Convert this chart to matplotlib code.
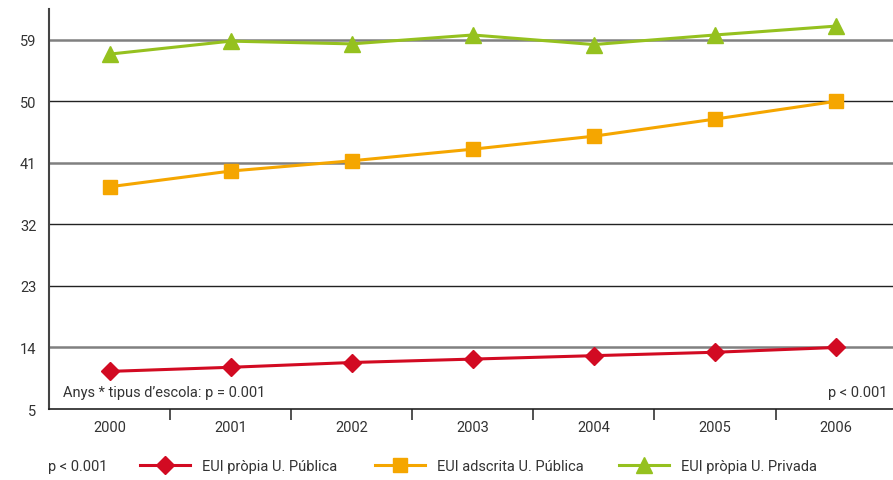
import numpy as np
import matplotlib
matplotlib.use("Agg")
import matplotlib.pyplot as plt
from matplotlib.lines import Line2D

plt.rcParams['font.family'] = ['Roboto', 'DejaVu Sans']

years = ["2000", "2001", "2002", "2003", "2004", "2005", "2006"]
eui_publica = [10.5, 11.1, 11.8, 12.3, 12.8, 13.3, 14.0]
eui_adscrita = [37.5, 39.8, 41.3, 43.0, 44.9, 47.4, 50.0]
eui_privada = [56.9, 58.8, 58.4, 59.7, 58.3, 59.7, 61.0]
yticks = [5, 14, 23, 32, 41, 50, 59]

labels = ["EUI pròpia U. Pública", "EUI adscrita U. Pública", "EUI pròpia U. Privada"]
colors = ["#d20a22", "#f5a600", "#95c11f"]
markers = ["D", "s", "^"]
msizes = [9, 10, 11]
FS = 10.5
TXT = "#333333"

fig = plt.figure(figsize=(8.93, 4.81), dpi=100)
ax = fig.add_axes([49/893, 1 - 410/481, 1 - 49/893, 400/481])

x = np.arange(len(years))
for vals, c, m, ms, lab in zip([eui_publica, eui_adscrita, eui_privada], colors, markers, msizes, labels):
    ax.plot(x, vals, color=c, marker=m, markersize=ms, linewidth=2.2, label=lab, zorder=5)

# gridlines: alternating grey / dark
for v in yticks[1:]:
    if v in (14, 41, 59):
        ax.axhline(v, color="#808080", linewidth=1.8, zorder=1)
    else:
        ax.axhline(v, color="#222222", linewidth=1.0, zorder=1)

ax.set_xlim(-0.5, 6.47)
ax.set_ylim(5, 63.5)
ax.set_yticks(yticks)
ax.set_yticklabels([str(v) for v in yticks], fontsize=FS, color=TXT)
ax.set_xticks(x)
ax.set_xticklabels(years, fontsize=FS, color=TXT)
ax.tick_params(axis="x", which="major", length=0, pad=8)
ax.tick_params(axis="y", length=0, pad=9)
ax.set_xticks(x[:-1] + 0.5, minor=True)
ax.tick_params(axis="x", which="minor", length=8, width=1.2, color=TXT, direction="out")

for s in ["top", "right"]:
    ax.spines[s].set_visible(False)
ax.spines["left"].set_color("#444444")
ax.spines["left"].set_linewidth(1.5)
ax.spines["bottom"].set_color("#222222")
ax.spines["bottom"].set_linewidth(1.2)

ax.text(0.017, 0.025, "Anys * tipus d\u2019escola: p = 0.001", transform=ax.transAxes,
        fontsize=FS, color=TXT, ha="left", va="bottom")
ax.text(0.994, 0.025, "p < 0.001", transform=ax.transAxes,
        fontsize=FS, color=TXT, ha="right", va="bottom")

ly = 1 - 467/481
fig.text(48/893, ly, "p < 0.001", fontsize=FS, color=TXT, ha="left", va="center")
starts = [140, 375, 619]
hl = 50 / (FS * 100 / 72)
for c, m, ms, lab, sx in zip(colors, markers, msizes, labels, starts):
    h = Line2D([0], [0], color=c, marker=m, markersize=ms, linewidth=2.2)
    fig.legend([h], [lab], loc="center left", bbox_to_anchor=(sx/893, ly),
               frameon=False, fontsize=FS, handlelength=hl, handletextpad=0.8,
               borderpad=0, borderaxespad=0, labelcolor=TXT)

fig.savefig("out.png", dpi=100)
